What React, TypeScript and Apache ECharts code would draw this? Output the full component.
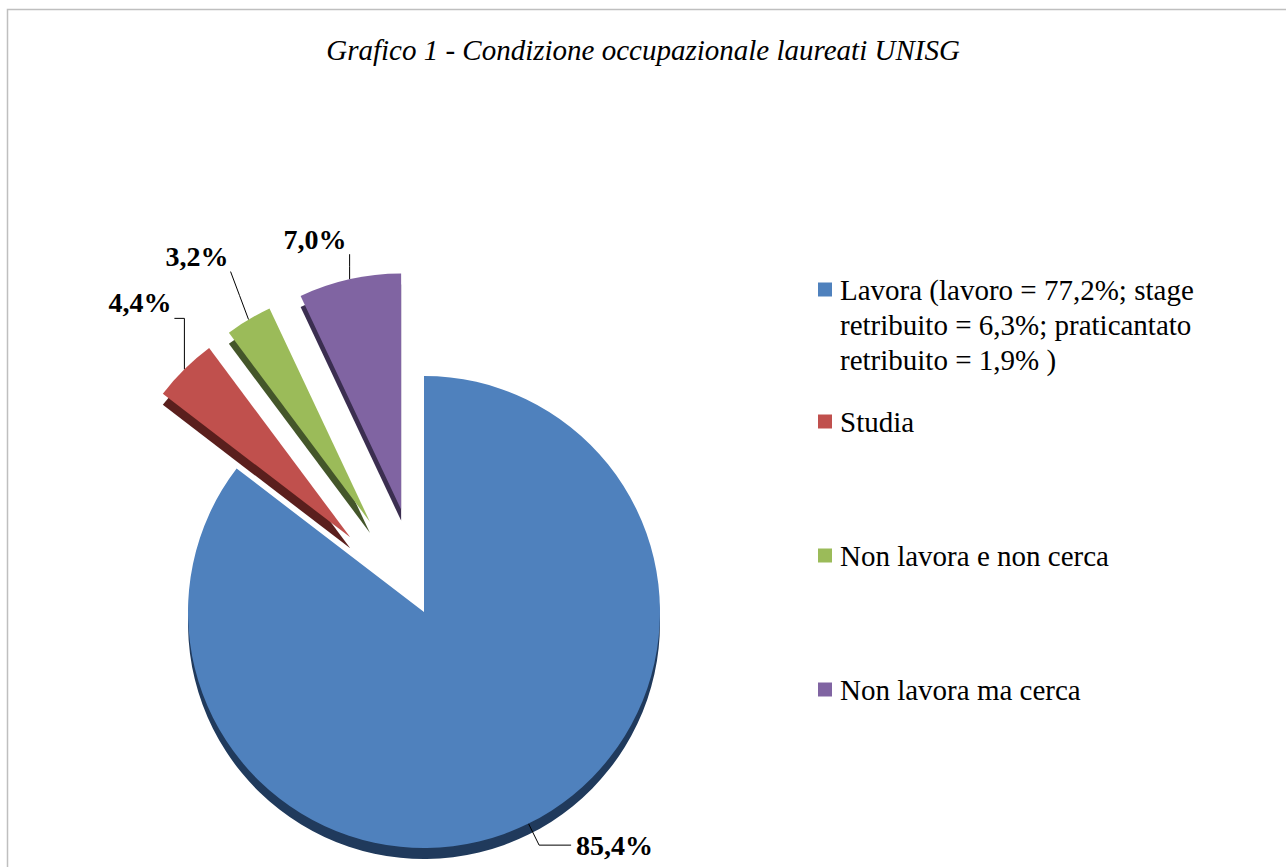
import React, { useEffect, useRef } from "react";
import * as echarts from "echarts";

const titleText = "Grafico 1 - Condizione occupazionale laureati UNISG";
const categories = ["Lavora", "Studia", "Non lavora e non cerca", "Non lavora ma cerca"];
const values = [85.4, 4.4, 3.2, 7.0];
const exploded = [false, true, true, true];
const legendLabels = [
  "\n\nLavora (lavoro = 77,2%; stage\nretribuito = 6,3%; praticantato\nretribuito = 1,9% )",
  "Studia",
  "Non lavora e non cerca",
  "Non lavora ma cerca",
];
const topColors = ["#4F81BD", "#C0504D", "#9BBB59", "#8064A2"];
const sideColors = ["#203A5C", "#5A1F1D", "#44562A", "#3B2E50"];
const labelLens = [
  [24, 32],
  [20, 8],
  [20, 8],
  [14, 8],
];
// label placement relative to the guide-line anchor: [right edge offset, centre-y offset]
const labelAnchor = [
  [0, 0],
  [-13, -67],
  [-20, -63],
  [-3, -40],
];
const legendTops = [202, 404, 538, 672];

const fmt = (v: number) => v.toFixed(1).replace(".", ",") + "%";

export default function App() {
  const ref = useRef<HTMLDivElement>(null);
  useEffect(() => {
    if (!ref.current) return;
    const chart = echarts.init(ref.current, undefined, { renderer: "svg" });
    const center = [424, 612];
    const radius = 236;
    const depth = 11;
    const option: any = {
      animation: false,
      backgroundColor: "#fff",
      title: {
        text: titleText,
        left: "center",
        top: 30,
        textStyle: {
          fontFamily: "Liberation Serif",
          fontStyle: "italic",
          fontWeight: "normal",
          fontSize: 29,
          color: "#000",
        },
      },
      graphic: [
        {
          type: "rect",
          z: -10,
          shape: { x: 7.5, y: 9.5, width: 1300, height: 900 },
          style: { fill: "none", stroke: "#BFBFBF", lineWidth: 1.5 },
        },
      ],
      legend: categories.map((c, i) => ({
        data: [c],
        orient: "vertical",
        left: 818,
        top: legendTops[i],
        padding: 0,
        itemWidth: 14,
        itemHeight: 14,
        itemGap: 9,
        icon: "rect",
        selectedMode: false,
        formatter: (name: string) => legendLabels[categories.indexOf(name)],
        textStyle: {
          fontFamily: "Liberation Serif",
          fontSize: 29,
          color: "#000",
          lineHeight: 35,
          padding: [0, 0, 0, 3],
        },
      })),
      series: [
        {
          type: "pie",
          name: "top",
          z: 3,
          center,
          radius,
          startAngle: 90,
          clockwise: true,
          selectedMode: "multiple",
          selectedOffset: 105,
          avoidLabelOverlap: false,
          emphasis: { disabled: true },
          label: {
            show: true,
            position: "outside",
            formatter: (p: any) => fmt(p.value),
            fontFamily: "Liberation Serif",
            fontWeight: "bold",
            fontSize: 28,
            color: "#000",
          },
          labelLine: { show: true, lineStyle: { color: "#000", width: 1 } },
          labelLayout: (p: any) => {
            const i = p.dataIndex;
            if (i === 0 || !p.labelLinePoints) return {};
            const r = p.labelRect;
            const p0 = p.labelLinePoints[0];
            const spec = labelAnchor[i];
            const dx = p0[0] + spec[0] - (r.x + r.width);
            const dy = p0[1] + spec[1] - (r.y + r.height / 2);
            const R = { x: r.x + dx, y: r.y + dy, w: r.width, h: r.height };
            let pts: number[][];
            if (i === 1) {
              const yT = R.y + R.h + 2;
              pts = [[p0[0], p0[1]], [p0[0], yT], [R.x + R.w + 3, yT]];
            } else if (i === 2) {
              const e = [R.x + R.w + 2, R.y + R.h + 1];
              pts = [[p0[0], p0[1]], [(p0[0] + e[0]) / 2, (p0[1] + e[1]) / 2], e];
            } else {
              const e = [p0[0], R.y + R.h + 1];
              pts = [[p0[0], p0[1]], [p0[0], (p0[1] + e[1]) / 2], e];
            }
            return { dx, dy, labelLinePoints: pts };
          },
          data: categories.map((c, i) => ({
            name: c,
            value: values[i],
            selected: exploded[i],
            itemStyle: { color: topColors[i] },
            labelLine: { length: labelLens[i][0], length2: labelLens[i][1] },
          })),
        },
        {
          type: "pie",
          name: "side",
          z: 2,
          silent: true,
          center: [center[0], center[1] + depth],
          radius,
          startAngle: 90,
          clockwise: true,
          selectedMode: "multiple",
          selectedOffset: 105,
          emphasis: { disabled: true },
          label: { show: false },
          labelLine: { show: false },
          data: categories.map((c, i) => ({
            name: c,
            value: values[i],
            selected: exploded[i],
            itemStyle: { color: sideColors[i] },
          })),
        },
      ],
    };
    chart.setOption(option);
    return () => chart.dispose();
  }, []);
  return (
    <div
      ref={ref}
      style={{ position: "fixed", left: 0, top: 0, width: 1286, height: 867 }}
    />
  );
}
